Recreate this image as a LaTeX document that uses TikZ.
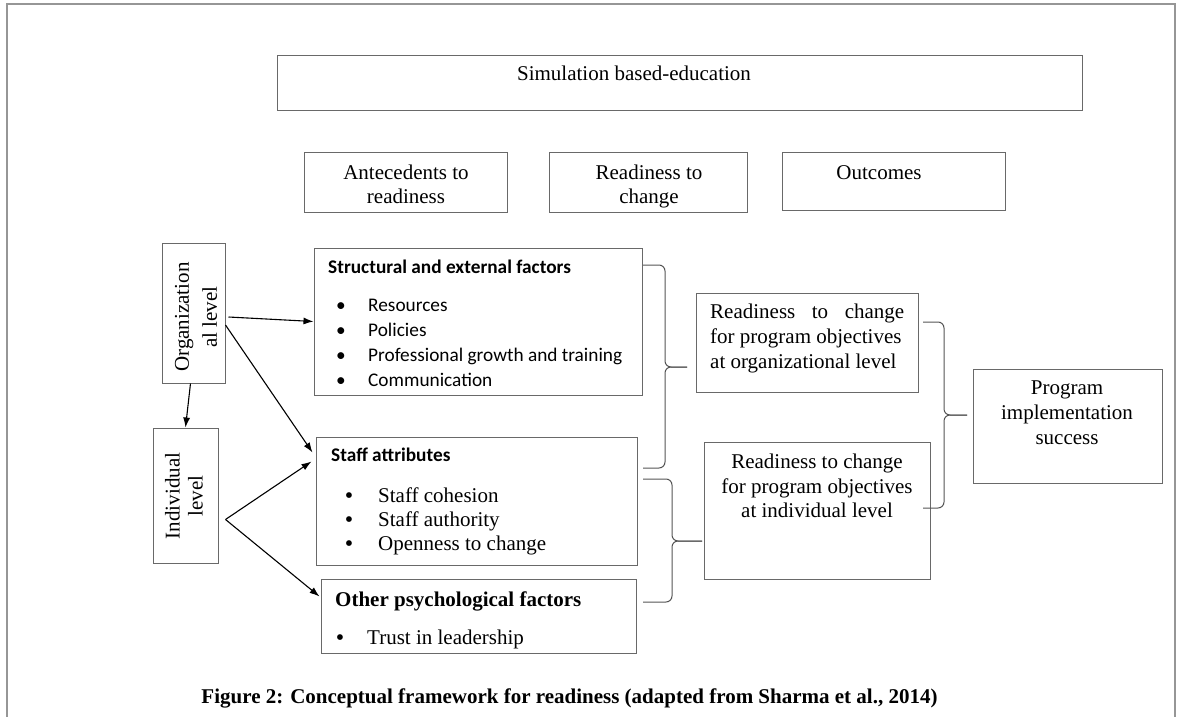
\documentclass[tikz,border=0pt]{standalone}
\usepackage{fontspec}
\setmainfont{Liberation Serif}
\newfontfamily\calfont{Carlito}
\usetikzlibrary{arrows.meta,fit,calc}
\definecolor{boxgray}{RGB}{105,105,105}
\definecolor{brkgray}{RGB}{85,85,85}
\definecolor{framegray}{RGB}{150,150,150}
\begin{document}
\begin{tikzpicture}[x=1pt,y=-1pt,
  box/.style={draw=boxgray, line width=1pt, inner sep=0pt, rectangle},
  serif/.style={font=\fontsize{21}{25}\selectfont, inner sep=0pt},
  serifb/.style={font=\bfseries\fontsize{21}{25}\selectfont, inner sep=0pt},
  bul/.style={font=\fontsize{24}{24}\selectfont, inner sep=0pt, anchor=base},
  cal/.style={font=\calfont\fontsize{19.3}{23}\selectfont, inner sep=0pt},
  calb/.style={font=\calfont\bfseries\fontsize{19.3}{23}\selectfont, inner sep=0pt},
  arr/.style={-{Latex[length=10pt,width=7pt]}, line width=1.1pt, black},
  brk/.style={draw=brkgray, line width=1pt, rounded corners=6pt}]
\useasboundingbox (0,0) rectangle (1184,717);
% outer frame
\draw[framegray, line width=1.3pt] (7,717) -- (7,4) -- (1175,4) -- (1175,717);

% boxes
\node[box, fit={(277,56) (1082,110)}] (sim) {};
\node[box, fit={(304,152) (507,212)}] (ante) {};
\node[box, fit={(549,152) (747,212)}] (rtc) {};
\node[box, fit={(782,152) (1005,210)}] (outc) {};
\node[box, fit={(162,243) (225,383)}] (org) {};
\node[box, fit={(153,428) (218,563)}] (ind) {};
\node[box, fit={(314,248) (642,395)}] (struct) {};
\node[box, fit={(316,437) (637,565)}] (staff) {};
\node[box, fit={(321,579) (636,653)}] (other) {};
\node[box, fit={(696,293) (918,392)}] (rorg) {};
\node[box, fit={(704,442) (930,579)}] (rind) {};
\node[box, fit={(973,369) (1162,483)}] (prog) {};

% top texts
\node[serif, anchor=base] (simt) at (634,81) {Simulation based-education};
\node[serif, anchor=base] (antet1) at (406,179) {Antecedents to};
\node[serif, anchor=base] (antet2) at (406,203) {readiness};
\node[serif, anchor=base] (rtct1) at (649,179) {Readiness to};
\node[serif, anchor=base] (rtct2) at (649,203) {change};
\node[serif, anchor=base] (outct) at (879,179) {Outcomes};

% level texts (rotated)
\node[font=\fontsize{21}{28}\selectfont, inner sep=0pt, rotate=90, align=center] (orgt) at (196,317) {Organization\\al level};
\node[font=\fontsize{21}{23}\selectfont, inner sep=0pt, rotate=90, align=center] (indt) at (184,496) {Individual\\level};

% structural and external factors
\node[calb, anchor=base west] (structh) at (328,273) {Structural and external factors};
\foreach \t [count=\i] in {Resources,Policies,Professional growth and training,Communication} {
  \node[cal, anchor=base] (sb\i) at (341,{311+25*(\i-1)}) {\textbullet};
  \node[cal, anchor=base west] (si\i) at (368,{311+25*(\i-1)}) {\t};
}

% staff attributes
\node[calb, anchor=base west] (staffh) at (331,461) {Staff attributes};
\foreach \t [count=\i] in {Staff cohesion,Staff authority,Openness to change} {
  \node[bul] (tb\i) at (349,{503+24*(\i-1)}) {\textbullet};
  \node[serif, anchor=base west] (ti\i) at (378,{502+24*(\i-1)}) {\t};
}

% other psychological factors
\node[serifb, anchor=base west] (otherh) at (335,606) {Other psychological factors};
\node[bul] (ob1) at (340,645) {\textbullet};
\node[serif, anchor=base west] (oi1) at (367,644) {Trust in leadership};

% readiness organisational
\node[serif, anchor=base west] (rorg1) at (710,318) {\makebox[194pt][s]{Readiness to change}};
\node[serif, anchor=base west] (rorg2) at (710,343) {for program objectives};
\node[serif, anchor=base west] (rorg3) at (710,368) {at organizational level};

% readiness individual
\node[serif, anchor=base] (rind1) at (817,468) {Readiness to change};
\node[serif, anchor=base] (rind2) at (817,493) {for program objectives};
\node[serif, anchor=base] (rind3) at (817,517) {at individual level};

% program implementation success
\node[serif, anchor=base] (prog1) at (1067,394) {Program};
\node[serif, anchor=base] (prog2) at (1067,419) {implementation};
\node[serif, anchor=base] (prog3) at (1067,444) {success};

% arrows
\draw[arr] ([xshift=3pt,yshift=-4pt]org.east) -- (struct.west);
\draw[arr] ([yshift=-12pt]org.east) -- ([xshift=-3pt,yshift=-16pt]staff.north west);
\draw[arr] ([xshift=-3pt]org.south) -- (ind.north);
\coordinate (indout) at ([xshift=7pt,yshift=-24pt]ind.east);
\draw[arr] (indout) -- ([xshift=-4pt,yshift=-25pt]staff.north west);
\draw[arr] (indout) -- ([xshift=-1pt,yshift=-18pt]other.north west);

% braces
\draw[brk] (643,265) -- (665,265) -- (665,367) -- (687,367);
\draw[brk] (687,367) -- (665,367) -- (665,468) -- (643,468);
\draw[brk] (643,479) -- (672,479) -- (672,541) -- (702,541);
\draw[brk] (702,541) -- (672,541) -- (672,602) -- (643,602);
\draw[brk] (923,322) -- (944,322) -- (944,415) -- (967,415);
\draw[brk] (967,415) -- (944,415) -- (944,508) -- (923,508);

% caption
\node[serifb, anchor=base] (cap) at (569.5,703) {Figure 2: Conceptual framework for readiness (adapted from Sharma et al., 2014)};
\end{tikzpicture}
\end{document}
